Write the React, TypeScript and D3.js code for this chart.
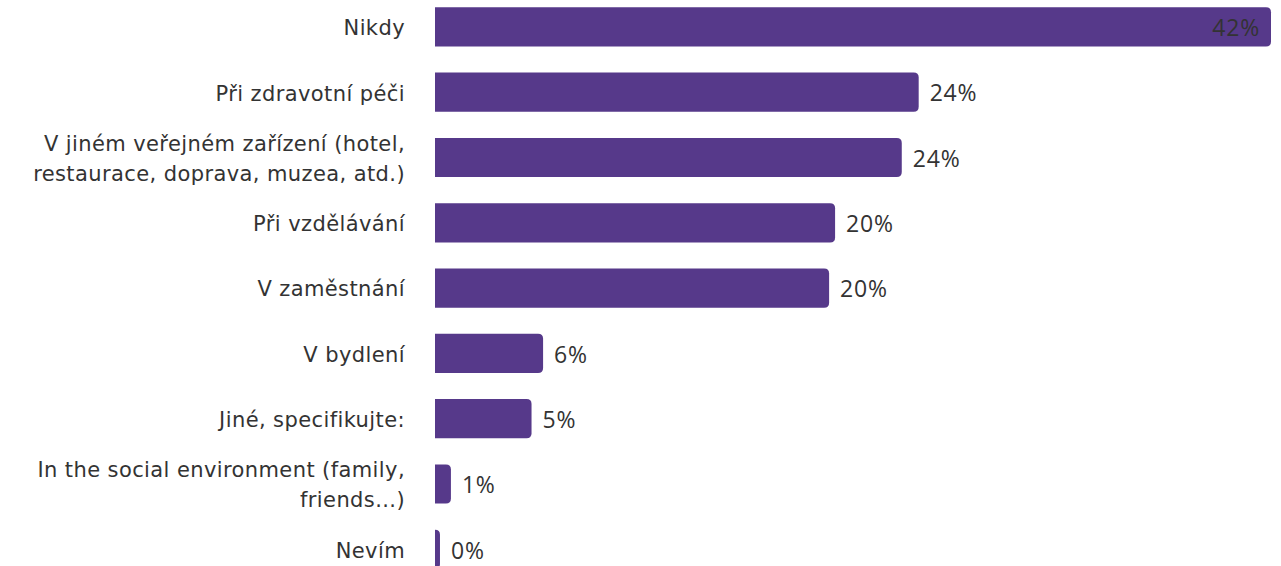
import React from "react";
import * as d3 from "d3";

const categories: string[][] = [
  ["Nikdy"],
  ["Při zdravotní péči"],
  ["V jiném veřejném zařízení (hotel,", "restaurace, doprava, muzea, atd.)"],
  ["Při vzdělávání"],
  ["V zaměstnání"],
  ["V bydlení"],
  ["Jiné, specifikujte:"],
  ["In the social environment (family,", "friends...)"],
  ["Nevím"],
];
const values: number[] = [42, 24.3, 23.45, 20.1, 19.8, 5.43, 4.85, 0.8, 0.25];
const valueLabels: string[] = ["42%", "24%", "24%", "20%", "20%", "6%", "5%", "1%", "0%"];

const W = 1281;
const H = 566;
const X0 = 435;
const X1 = 1271;
const BAR = "#56398a";
const TEXT = "#333333";

function barPath(x0: number, x1: number, y: number, h: number, r: number) {
  const w = x1 - x0;
  const rr = Math.min(r, w, h / 2);
  return `M${x0},${y}H${x1 - rr}Q${x1},${y} ${x1},${y + rr}V${y + h - rr}Q${x1},${y + h} ${x1 - rr},${y + h}H${x0}Z`;
}

export default function App() {
  const x = d3.scaleLinear().domain([0, 42]).range([X0, X1]);
  const ids = categories.map((_, i) => String(i));
  const step = 65.3;
  const y = d3
    .scaleBand<string>()
    .domain(ids)
    .range([7.3 - 0.2 * step, 7.3 - 0.2 * step + 9 * step])
    .paddingInner(0.4)
    .paddingOuter(0.2);
  const bw = y.bandwidth();

  return (
    <svg width={W} height={H} style={{ position: "absolute", left: 0, top: 0 }}>
      {categories.map((lines, i) => {
        const yy = y(ids[i])!;
        const cy = yy + bw / 2;
        const xe = x(values[i]);
        const inside = i === 0;
        const lh = 30;
        return (
          <g key={i}>
            <path d={barPath(X0, xe, yy, bw, 5)} fill={BAR} />
            {lines.map((l, j) => (
              <text
                key={j}
                x={405}
                y={cy + 1 + (j - (lines.length - 1) / 2) * lh}
                dy="0.35em"
                textAnchor="end"
                fontFamily="'DejaVu Sans', Verdana, sans-serif"
                fontSize={21}
                letterSpacing={0.4}
                fill={TEXT}
              >
                {l}
              </text>
            ))}
            <text
              x={inside ? xe - 11 : xe + 11}
              y={cy + 1}
              dy="0.36em"
              textAnchor={inside ? "end" : "start"}
              fontFamily="'Open Sans', sans-serif"
              fontSize={23}
              letterSpacing={0.8}
              fill={TEXT}
            >
              {valueLabels[i]}
            </text>
          </g>
        );
      })}
    </svg>
  );
}
